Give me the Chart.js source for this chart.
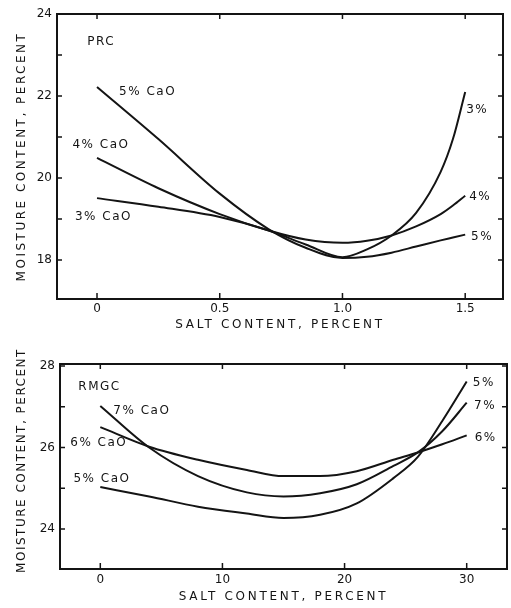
<!DOCTYPE html>
<html>
<head>
<meta charset="utf-8">
<script src="https://cdn.jsdelivr.net/npm/chart.js@4.4.1/dist/chart.umd.min.js"></script>
<style>
  html, body { margin: 0; padding: 0; background: #fff; }
  #wrap { position: relative; width: 511px; height: 608px; }
  canvas { position: absolute; left: 0; }
  #prc { top: 0; }
  #rmgc { top: 330px; }
</style>
</head>
<body>
<div id="wrap">
  <canvas id="prc" width="511" height="330"></canvas>
  <canvas id="rmgc" width="511" height="278"></canvas>
</div>
<script>
// PRC panel: salt 0 - 1.5 percent
const prcSalt = [0, 0.25, 0.5, 0.7, 0.85, 1.0, 1.1, 1.2, 1.3, 1.4, 1.45, 1.5];
const prcCaO3 = [19.51, 19.3, 19.05, 18.72, 18.38, 18.07, 18.26, 18.6, 19.15, 20.15, 20.95, 22.1];
const prcCaO4 = [20.49, 19.75, 19.12, 18.72, 18.5, 18.42, 18.47, 18.6, 18.82, 19.12, 19.33, 19.57];
const prcCaO5 = [22.22, 20.95, 19.62, 18.75, 18.3, 18.05, 18.08, 18.18, 18.33, 18.48, 18.55, 18.62];
const prcXTicks = [0, 0.5, 1.0, 1.5];
const prcXLabels = ['0', '0.5', '1.0', '1.5'];
const prcYTicks = [18, 19, 20, 21, 22, 23, 24];
const prcYLabels = ['18', '', '20', '', '22', '', '24'];
const prcNotes = [
  ['PRC', -0.04, 23.32], ['5% CaO', 0.09, 22.1], ['4% CaO', -0.1, 20.8], ['3% CaO', -0.09, 19.05],
  ['3%', 1.504, 21.66], ['4%', 1.516, 19.54], ['5%', 1.524, 18.56]
];

// RMGC panel: salt 0 - 30 percent
const rmgcSalt = [0, 4, 8, 12, 15, 18, 21, 24, 26, 28, 30];
const rmgcCaO5 = [25.03, 24.8, 24.55, 24.38, 24.27, 24.35, 24.63, 25.25, 25.77, 26.65, 27.62];
const rmgcCaO6 = [26.5, 26.02, 25.7, 25.45, 25.3, 25.3, 25.42, 25.7, 25.88, 26.08, 26.3];
const rmgcCaO7 = [27.02, 26.0, 25.3, 24.9, 24.8, 24.88, 25.1, 25.55, 25.88, 26.4, 27.1];
const rmgcXTicks = [0, 10, 20, 30];
const rmgcXLabels = ['0', '10', '20', '30'];
const rmgcYTicks = [24, 25, 26, 27, 28];
const rmgcYLabels = ['24', '', '26', '', '28'];
const rmgcNotes = [
  ['RMGC', -1.8, 27.48], ['7% CaO', 1.07, 26.9], ['6% CaO', -2.46, 26.11], ['5% CaO', -2.2, 25.23],
  ['5%', 30.5, 27.58], ['7%', 30.6, 27.02], ['6%', 30.65, 26.23]
];

const FONT = 'DejaVu Sans';
const INK = '#141414';

function toPoints(xs, ys) {
  return xs.map((x, i) => ({ x: x, y: ys[i] }));
}

// frame, inward ticks, titles and curve labels
const paperPlugin = {
  id: 'paper',
  afterDraw(chart, args, o) {
    const ctx = chart.ctx;
    const a = chart.chartArea;
    const xs = chart.scales.x, ys = chart.scales.y;
    ctx.save();
    ctx.strokeStyle = INK;
    ctx.lineWidth = 2;
    ctx.strokeRect(a.left, a.top, a.right - a.left, a.bottom - a.top);
    ctx.lineWidth = 1.5;
    ctx.beginPath();
    o.yTicks.forEach(v => {
      const py = ys.getPixelForValue(v);
      ctx.moveTo(a.left, py); ctx.lineTo(a.left + 5, py);
      ctx.moveTo(a.right, py); ctx.lineTo(a.right - 5, py);
    });
    o.xTicks.forEach(v => {
      const px = xs.getPixelForValue(v);
      ctx.moveTo(px, a.top); ctx.lineTo(px, a.top + 5);
      ctx.moveTo(px, a.bottom); ctx.lineTo(px, a.bottom - 6);
    });
    ctx.stroke();

    ctx.fillStyle = INK;
    ctx.font = '12px "' + FONT + '"';
    ctx.textBaseline = 'middle';
    ctx.textAlign = 'left';
    ctx.letterSpacing = '1.5px';
    o.notes.forEach(n => {
      ctx.fillText(n[0], xs.getPixelForValue(n[1]), ys.getPixelForValue(n[2]));
    });

    ctx.textAlign = 'center';
    ctx.letterSpacing = o.xSpacing;
    ctx.fillText('SALT CONTENT, PERCENT', (a.left + a.right) / 2, o.xTitleY);

    ctx.translate(o.yTitleX, (a.top + a.bottom) / 2 + o.yTitleShift);
    ctx.rotate(-Math.PI / 2);
    ctx.letterSpacing = o.ySpacing;
    ctx.fillText('MOISTURE CONTENT, PERCENT', 0, 0);
    ctx.restore();
  }
};

function makeChart(id, cfg) {
  const ctx = document.getElementById(id).getContext('2d');
  const line = (xs, ys) => ({
    data: toPoints(xs, ys),
    borderColor: INK,
    borderWidth: 2,
    pointRadius: 0,
    cubicInterpolationMode: 'monotone',
    fill: false
  });
  return new Chart(ctx, {
    type: 'line',
    data: { datasets: cfg.series.map(s => line(cfg.salt, s)) },
    options: {
      responsive: false,
      animation: false,
      layout: { padding: cfg.padding },
      plugins: {
        legend: { display: false },
        tooltip: { enabled: false },
        paper: {
          xTicks: cfg.xTicks, yTicks: cfg.yTicks, notes: cfg.notes,
          xTitleY: cfg.xTitleY, yTitleX: 22, yTitleShift: cfg.yTitleShift,
          xSpacing: cfg.xSpacing, ySpacing: cfg.ySpacing
        }
      },
      scales: {
        x: {
          type: 'linear',
          min: cfg.xMin, max: cfg.xMax,
          grid: { display: false, drawTicks: false },
          border: { display: false },
          afterBuildTicks: s => { s.ticks = cfg.xTicks.map(v => ({ value: v })); },
          afterFit: s => { s.height = cfg.xHeight; },
          ticks: {
            padding: cfg.xPad,
            color: INK,
            font: { family: FONT, size: 12 },
            maxRotation: 0,
            callback: v => cfg.xLabels[cfg.xTicks.indexOf(v)]
          }
        },
        y: {
          min: cfg.yMin, max: cfg.yMax,
          grid: { display: false, drawTicks: false },
          border: { display: false },
          afterBuildTicks: s => { s.ticks = cfg.yTicks.map(v => ({ value: v })); },
          afterFit: s => { s.width = cfg.yWidth; },
          ticks: {
            padding: 5,
            color: INK,
            font: { family: FONT, size: 12 },
            callback: v => cfg.yLabels[cfg.yTicks.indexOf(v)]
          }
        }
      }
    },
    plugins: [paperPlugin]
  });
}

makeChart('prc', {
  salt: prcSalt,
  series: [prcCaO3, prcCaO4, prcCaO5],
  xMin: -0.163, xMax: 1.654, yMin: 17.05, yMax: 24,
  xTicks: prcXTicks, xLabels: prcXLabels, yTicks: prcYTicks, yLabels: prcYLabels,
  notes: prcNotes,
  padding: { left: 0, right: 8, top: 14, bottom: 0 },
  yWidth: 57, xHeight: 31, xPad: 3,
  xTitleY: 325, yTitleShift: 0, xSpacing: '2.7px', ySpacing: '2.5px'
});

makeChart('rmgc', {
  salt: rmgcSalt,
  series: [rmgcCaO5, rmgcCaO6, rmgcCaO7],
  xMin: -3.3, xMax: 33.3, yMin: 23.02, yMax: 28.05,
  xTicks: rmgcXTicks, xLabels: rmgcXLabels, yTicks: rmgcYTicks, yLabels: rmgcYLabels,
  notes: rmgcNotes,
  padding: { left: 0, right: 4, top: 34, bottom: 0 },
  yWidth: 60, xHeight: 39, xPad: 4,
  xTitleY: 267, yTitleShift: -6, xSpacing: '2.7px', ySpacing: '1.5px'
});
</script>
</body>
</html>
